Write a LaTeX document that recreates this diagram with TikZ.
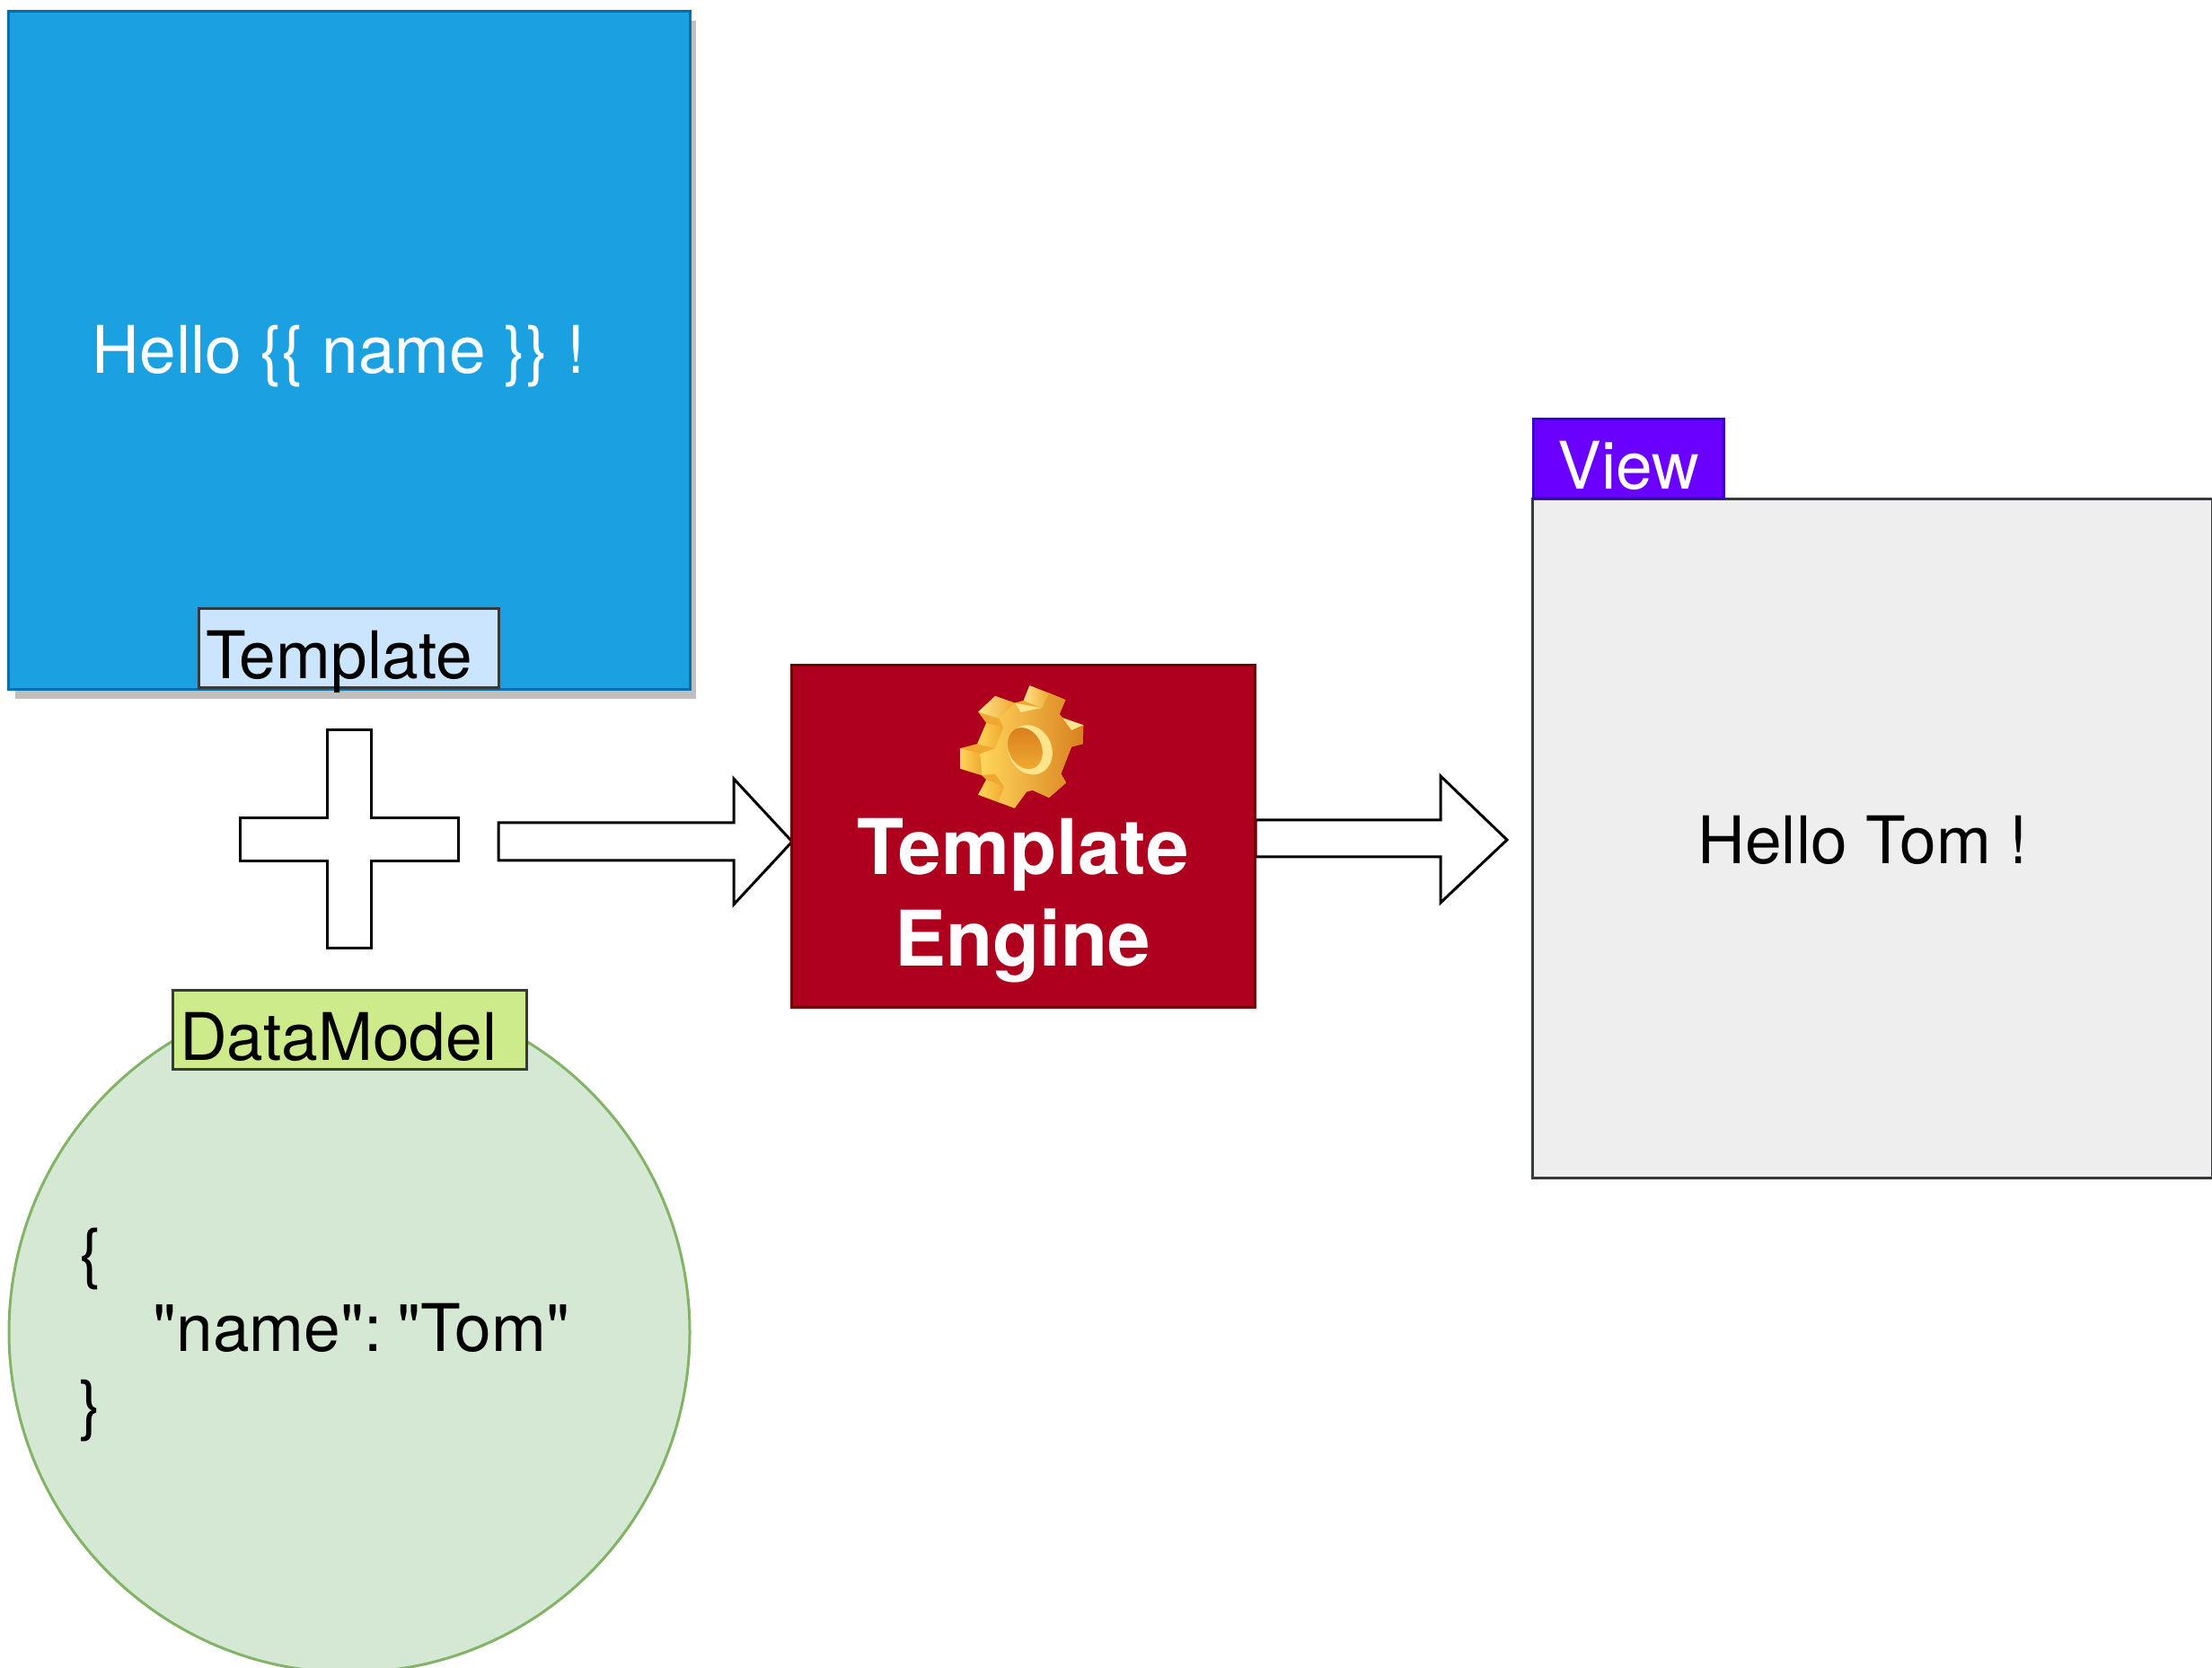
\documentclass[tikz,border=0pt]{standalone}
\usepackage{fontspec}
\setmainfont[Ligatures=TeXOff]{TeX Gyre Heros}
\usetikzlibrary{shadows}
\definecolor{tplblue}{HTML}{1BA1E2}
\definecolor{tplblueline}{HTML}{006EAF}
\definecolor{tpltag}{HTML}{CCE5FF}
\definecolor{tagline}{HTML}{36393D}
\definecolor{modelgreen}{HTML}{D5E8D4}
\definecolor{modelline}{HTML}{82B366}
\definecolor{modeltag}{HTML}{CDEB8B}
\definecolor{enginered}{HTML}{AE001E}
\definecolor{engineline}{HTML}{6F0000}
\definecolor{viewviolet}{HTML}{6A00FF}
\definecolor{viewline}{HTML}{3700CC}
\definecolor{viewgray}{HTML}{EEEEEE}
\definecolor{geardark}{HTML}{D9811F}
\definecolor{gearmid}{HTML}{F0A830}
\definecolor{gearlight}{HTML}{FFD65A}
\definecolor{gearpale}{HTML}{FFE48C}
\tikzset{
	panel/.style={draw, line width=0.3mm, minimum width=#1, inner sep=0pt},
	tagbox/.style={draw=tagline, line width=0.3mm, inner ysep=0pt, inner xsep=0.08cm, anchor=south west, text height=0.78cm, text depth=0.10cm, font=\fontsize{20.8}{24}\selectfont},
	blockshape/.style={draw=black, line width=0.3mm, fill=white, line join=miter},
	bodytext/.style={font=\fontsize{20.8}{24}\selectfont, inner sep=0pt},
}

\begin{document}
\begin{tikzpicture}
	\useasboundingbox (0,0) rectangle (24.63,18.56);

	% template
	\node[panel=7.58cm, minimum height=7.55cm, fill=tplblue, draw=tplblueline, drop shadow={shadow xshift=0.07cm, shadow yshift=-0.1cm, opacity=1, fill=black!25}] (template) at (3.89,14.655) {};
	\node[bodytext, white] (templatetext) at (3.77,14.59) {Hello \{\{ name \}\} !};
	\node[tagbox, fill=tpltag, minimum width=3.34cm, text width=3.18cm] (templatetag) at (2.195,10.89) {Template};

	% plus
	\draw[blockshape] (3.64,10.43) -- (4.13,10.43) -- (4.13,9.45) -- (5.10,9.45) -- (5.10,8.97) -- (4.13,8.97)
		-- (4.13,8.00) -- (3.64,8.00) -- (3.64,8.97) -- (2.67,8.97) -- (2.67,9.45) -- (3.64,9.45) -- cycle;

	% data model
	\node[panel=7.58cm, circle, fill=modelgreen, draw=modelline] (model) at (3.89,3.73) {};
	\node[tagbox, fill=modeltag, minimum width=3.94cm, text width=3.78cm] (modeltag) at (1.905,6.64) {DataModel};
	\node[bodytext, anchor=west, align=left] (modeltext) at (0.88,3.70) {\{\\\hspace*{0.82cm}"name":\hspace{0.17cm}"Tom"\\\}};

	% arrows
	\draw[blockshape] (5.55,9.40) -- (8.17,9.40) -- (8.17,9.89) -- (8.82,9.19) -- (8.17,8.49) -- (8.17,8.98) -- (5.55,8.98) -- cycle;
	\draw[blockshape] (13.98,9.43) -- (16.04,9.43) -- (16.04,9.92) -- (16.78,9.21) -- (16.04,8.51) -- (16.04,9.02) -- (13.98,9.02) -- cycle;

	% engine
	\node[panel=5.16cm, minimum height=3.81cm, fill=enginered, draw=engineline] (engine) at (11.39,9.245) {};
	\node[font=\bfseries\fontsize{24.3}{29}\selectfont, white, align=center, inner sep=0pt] (enginetext) at (11.39,8.53) {Template\\Engine};

	% gear
	\begin{scope}[shift={(10.30,11.06)}, x=0.00333cm, y=-0.00333cm]
		\fill[gearmid] (350,40) -- (470,88) -- (450,135) -- (460,148) -- (530,172) -- (528,235) -- (490,245) -- (455,335)
			-- (472,365) -- (415,415) -- (360,390) -- (340,395) -- (300,450) -- (178,405) -- (205,355) -- (190,340)
			-- (118,318) -- (118,250) -- (175,235) -- (205,165) -- (178,128) -- (235,75) -- (300,98) -- (330,90) -- cycle;
		\shade[left color=gearpale, right color=gearmid] (235,75) -- (300,98) -- (248,150) -- (178,128) -- cycle;
		\shade[left color=gearpale, right color=gearmid] (350,40) -- (415,65) -- (390,115) -- (330,90) -- cycle;
		\fill[gearpale] (415,65) -- (470,88) -- (390,115) -- cycle;
		\fill[gearpale] (300,98) -- (390,115) -- (320,130) -- cycle;
		\fill[gearpale] (460,148) -- (530,172) -- (490,190) -- cycle;
		\shade[left color=gearlight, right color=gearmid] (205,165) -- (262,180) -- (235,250) -- (175,235) -- cycle;
		\shade[left color=gearlight, right color=gearmid] (118,250) -- (185,268) -- (190,340) -- (118,318) -- cycle;
		\shade[left color=gearlight, right color=gearmid] (205,355) -- (265,378) -- (245,430) -- (178,405) -- cycle;
		\shade[left color=gearlight, right color=geardark] (300,98) -- (320,130) -- (390,115) -- (415,65) -- (470,88) -- (450,135)
			-- (460,148) -- (490,190) -- (530,172) -- (528,235) -- (490,245) -- (455,335) -- (472,365) -- (415,415)
			-- (360,390) -- (340,395) -- (300,450) -- (245,430) -- (265,378) -- (235,335) -- (190,340) -- (185,268)
			-- (235,250) -- (262,180) -- (248,150) -- cycle;
		\fill[gearpale, rotate around={25:(352,255)}] (352,255) ellipse (72 and 85);
		\shade[top color=geardark, bottom color=gearmid, rotate around={25:(335,250)}] (335,250) ellipse (55 and 72);
	\end{scope}

	% view
	\node[panel=7.57cm, minimum height=7.56cm, fill=viewgray, draw=tagline] (view) at (20.845,9.22) {};
	\node[tagbox, fill=viewviolet, draw=viewline, text=white, minimum width=2.12cm, text width=1.96cm, align=center] (viewtag) at (17.06,13.00) {View};
	\node[bodytext] (viewtext) at (20.74,9.21) {Hello Tom !};
\end{tikzpicture}
\end{document}
